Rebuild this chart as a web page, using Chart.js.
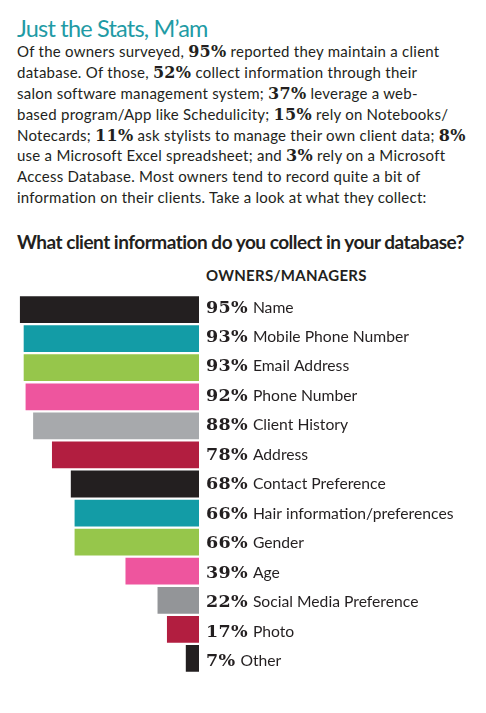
<!DOCTYPE html>
<html>
<head>
<meta charset="utf-8">
<script src="https://cdn.jsdelivr.net/npm/chart.js@4.4.1/dist/chart.umd.min.js"></script>
<style>
  body { margin: 0; background: #fff; }
  #page { position: relative; width: 486px; height: 713px; overflow: hidden; font-family: Lato, sans-serif; color: #231f20; }
  .title { position: absolute; left: 17px; top: 14px; font-size: 23.5px; line-height: 28.2px; color: #1f9ba5; white-space: nowrap; letter-spacing: -0.8px; }
  .intro { position: absolute; left: 17px; top: 41px; font-size: 15px; white-space: nowrap; letter-spacing: 0.25px; }
  .intro div { height: 20.9px; line-height: 20.9px; }
  .intro b { font-family: "DejaVu Serif", serif; font-weight: bold; font-size: 16px; line-height: 1; letter-spacing: 0.3px; }
  .question { position: absolute; left: 17px; top: 231px; font-size: 19px; line-height: 22.8px; font-weight: bold; white-space: nowrap; letter-spacing: -0.5px; }
  .series { position: absolute; left: 206px; top: 265.5px; font-size: 15px; line-height: 18px; font-weight: bold; letter-spacing: 0.3px; }
  #chart { position: absolute; left: 0; top: 290px; }
</style>
</head>
<body>
<div id="page">
  <div class="title">Just the Stats, M’am</div>
  <div class="intro">
    <div>Of the owners surveyed, <b>95%</b> reported they maintain a client</div>
    <div>database. Of those, <b>52%</b> collect information through their</div>
    <div>salon software management system; <b>37%</b> leverage a web-</div>
    <div>based program/App like Schedulicity; <b>15%</b> rely on Notebooks/</div>
    <div>Notecards; <b>11%</b> ask stylists to manage their own client data; <b>8%</b></div>
    <div>use a Microsoft Excel spreadsheet; and <b>3%</b> rely on a Microsoft</div>
    <div>Access Database. Most owners tend to record quite a bit of</div>
    <div>information on their clients. Take a look at what they collect:</div>
  </div>
  <div class="question">What client information do you collect in your database?</div>
  <div class="series">OWNERS/MANAGERS</div>
  <canvas id="chart" width="486" height="390"></canvas>
</div>
<script>
const categories = [
  'Name', 'Mobile Phone Number', 'Email Address', 'Phone Number', 'Client History',
  'Address', 'Contact Preference', 'Hair information/preferences', 'Gender', 'Age',
  'Social Media Preference', 'Photo', 'Other'
];
const values = [95, 93, 93, 92, 88, 78, 68, 66, 66, 39, 22, 17, 7];
const barColors = [
  '#231f20', '#139ca6', '#96c64b', '#ee559e', '#a7a9ac', '#b21e40',
  '#231f20', '#139ca6', '#96c64b', '#ee559e', '#939598', '#b21e40', '#231f20'
];

// percent + label to the right of each bar's base
const labelPlugin = {
  id: 'pctLabels',
  afterDatasetsDraw(chart) {
    const { ctx, scales: { x, y } } = chart;
    const x0 = x.getPixelForValue(0) + 7;
    ctx.save();
    ctx.fillStyle = '#231f20';
    ctx.textBaseline = 'alphabetic';
    values.forEach((v, i) => {
      const cy = y.getPixelForValue(i) + 3 + i * 0.38;
      const pct = v + '%';
      ctx.font = 'bold 17.5px "DejaVu Serif"';
      ctx.letterSpacing = '0.3px';
      ctx.fillText(pct, x0, cy);
      const w = ctx.measureText(pct).width;
      ctx.font = '15.7px Lato';
      ctx.letterSpacing = '0px';
      ctx.fillText(categories[i], x0 + w + 5, cy);
    });
    ctx.restore();
  }
};

new Chart(document.getElementById('chart'), {
  type: 'bar',
  data: {
    labels: categories,
    datasets: [{
      data: values,
      backgroundColor: barColors,
      borderWidth: 0,
      barPercentage: 0.92,
      categoryPercentage: 1
    }]
  },
  options: {
    indexAxis: 'y',
    responsive: false,
    animation: false,
    layout: { padding: { left: 10.5, right: 287, top: 5, bottom: 7 } },
    plugins: { legend: { display: false }, tooltip: { enabled: false } },
    scales: {
      x: { min: 0, max: 100, reverse: true, display: false },
      y: { display: false }
    }
  },
  plugins: [labelPlugin]
});
</script>
</body>
</html>
